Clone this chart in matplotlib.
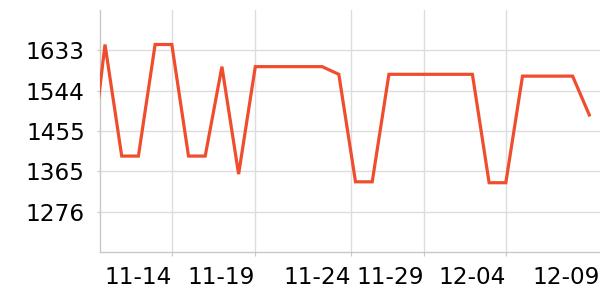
import numpy as np
import matplotlib
matplotlib.use("Agg")
import matplotlib.pyplot as plt

# daily values, 11-09 .. 12-09 (first one is clipped by the axis)
dates = ['11-09', '11-10', '11-11', '11-12', '11-13', '11-14', '11-15', '11-16',
         '11-17', '11-18', '11-19', '11-20', '11-21', '11-22', '11-23', '11-24',
         '11-25', '11-26', '11-27', '11-28', '11-29', '11-30', '12-01', '12-02',
         '12-03', '12-04', '12-05', '12-06', '12-07', '12-08', '12-09']
values = [1335, 1646, 1399, 1399, 1646, 1646, 1399, 1399,
          1597, 1359, 1597, 1597, 1597, 1597, 1597, 1580,
          1342, 1342, 1580, 1580, 1580, 1580, 1580, 1580,
          1340, 1340, 1576, 1576, 1576, 1576, 1490]

x_labels = ['11-14', '11-19', '11-24', '11-29', '12-04', '12-09']
y_ticks = [1275.9, 1365.2, 1454.5, 1543.8, 1633.1]
y_labels = ['1276', '1365', '1455', '1544', '1633']

x = np.arange(len(values)) - 1   # day 0 = 11-10

fig = plt.figure(figsize=(6, 3), dpi=100)
ax = fig.add_axes([100 / 600, 48 / 300, 500 / 600, 242 / 300])

ax.plot(x, values, color='#ef4d2e', linewidth=2.3, solid_joinstyle='miter', zorder=3)

xmin, xmax = -0.3, 29.64
ax.set_xlim(xmin, xmax)
ax.set_ylim(1186.6, 1722.4)

# last label is pushed against the right edge
ax.set_xticks([4.0, 9.0, 14.73, 19.1, 24.0, xmax])
ax.set_xticklabels(x_labels, ha='right', fontsize=16.7)
ax.set_yticks(y_ticks)
ax.set_yticklabels(y_labels, fontsize=16.7)

ax.grid(True, color='#dddddd', linewidth=1)
ax.set_axisbelow(True)
last = ax.xaxis.get_major_ticks()[-1]
last.gridline.set_visible(False)
last.tick1line.set_visible(False)

for s in ['top', 'right']:
    ax.spines[s].set_visible(False)
for s in ['left', 'bottom']:
    ax.spines[s].set_color('#c8c8c8')
    ax.spines[s].set_linewidth(1)

ax.tick_params(axis='x', length=3, color='#c8c8c8', pad=7)
ax.tick_params(axis='y', length=2, color='#c8c8c8', pad=9)

fig.savefig('out.png', dpi=100)
